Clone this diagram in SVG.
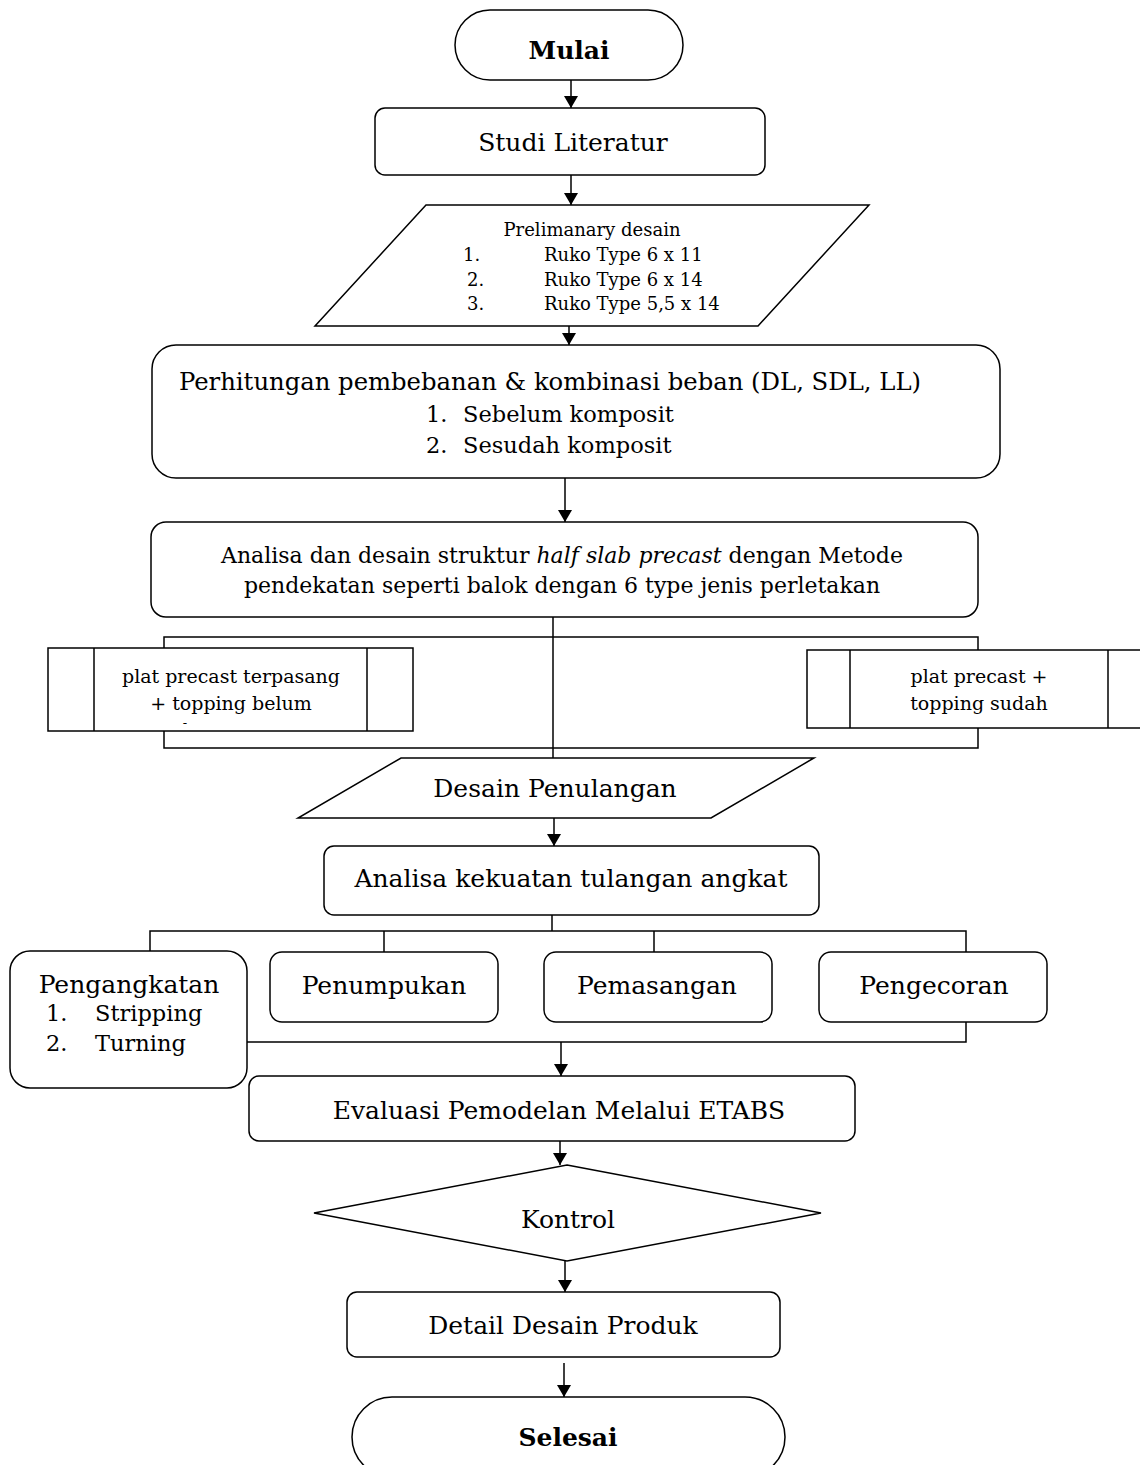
<svg xmlns="http://www.w3.org/2000/svg" width="1140" height="1465" viewBox="0 0 1140 1465">
<style>
.s{fill:#fff;stroke:#000;stroke-width:1.5}
.l{fill:none;stroke:#000;stroke-width:1.5}
.t{font-family:"DejaVu Serif","Liberation Serif",serif;font-size:25px;fill:#000;text-anchor:middle}
.b{font-weight:bold}
.sm{font-size:18px}
.md{font-size:19px}
.li{font-size:22.5px}
.an{font-size:22px}
.ph{font-size:24.3px}
.dash{font-size:13px}
.st{text-anchor:start}
</style>
<defs>
<marker id="ah" markerWidth="12" markerHeight="14" refX="12" refY="7" orient="auto" markerUnits="userSpaceOnUse">
<path d="M0,0 L12,7 L0,14 Z" fill="#000"/>
</marker>
</defs>
<rect width="1140" height="1465" fill="#fff"/>
<g id="connectors">
<line class="l" x1="571" y1="80" x2="571" y2="108" marker-end="url(#ah)"/>
<line class="l" x1="571" y1="175" x2="571" y2="205" marker-end="url(#ah)"/>
<line class="l" x1="569" y1="326" x2="569" y2="345" marker-end="url(#ah)"/>
<line class="l" x1="565" y1="478" x2="565" y2="522" marker-end="url(#ah)"/>
<line class="l" x1="553" y1="617" x2="553" y2="758"/>
<polyline class="l" points="164,648 164,637 978,637 978,650"/>
<polyline class="l" points="164,731 164,748 978,748 978,728"/>
<line class="l" x1="554" y1="818" x2="554" y2="846" marker-end="url(#ah)"/>
<line class="l" x1="552" y1="915" x2="552" y2="931"/>
<polyline class="l" points="150,951 150,931 966,931 966,952"/>
<line class="l" x1="384" y1="931" x2="384" y2="952"/>
<line class="l" x1="654" y1="931" x2="654" y2="952"/>
<polyline class="l" points="247,1042 966,1042 966,1022"/>
<line class="l" x1="561" y1="1042" x2="561" y2="1076" marker-end="url(#ah)"/>
<line class="l" x1="560" y1="1141" x2="560" y2="1165" marker-end="url(#ah)"/>
<line class="l" x1="565" y1="1261" x2="565" y2="1292" marker-end="url(#ah)"/>
<line class="l" x1="564" y1="1363" x2="564" y2="1397" marker-end="url(#ah)"/>
</g>
<g id="mulai">
<rect class="s" x="455" y="10" width="228" height="70" rx="35"/>
<text class="t b" x="569" y="59">Mulai</text>
</g>
<g id="studi">
<rect class="s" x="375" y="108" width="390" height="67" rx="10"/>
<text class="t" x="573" y="151">Studi Literatur</text>
</g>
<g id="prelim">
<polygon class="s" points="426,205 869,205 758,326 315,326"/>
<text class="t sm" x="592" y="236">Prelimanary desain</text>
<text class="t sm st" x="463" y="261">1.</text>
<text class="t sm st" x="544" y="261">Ruko Type 6 x 11</text>
<text class="t sm st" x="467" y="286">2.</text>
<text class="t sm st" x="544" y="286">Ruko Type 6 x 14</text>
<text class="t sm st" x="467" y="310">3.</text>
<text class="t sm st" x="544" y="310">Ruko Type 5,5 x 14</text>
</g>
<g id="perhitungan">
<rect class="s" x="152" y="345" width="848" height="133" rx="24"/>
<text class="t ph" x="550" y="390">Perhitungan pembebanan &amp; kombinasi beban (DL, SDL, LL)</text>
<text class="t li st" x="426" y="422">1.</text>
<text class="t li st" x="463" y="422">Sebelum komposit</text>
<text class="t li st" x="426" y="453">2.</text>
<text class="t li st" x="463" y="453">Sesudah komposit</text>
</g>
<g id="analisa">
<rect class="s" x="151" y="522" width="827" height="95" rx="15"/>
<text class="t an" x="562" y="563">Analisa dan desain struktur <tspan font-style="italic">half slab precast</tspan> dengan Metode</text>
<text class="t an" x="562" y="593">pendekatan seperti balok dengan 6 type jenis perletakan</text>
</g>
<g id="plat-belum">
<rect class="s" x="48" y="648" width="365" height="83"/>
<line class="l" x1="94" y1="648" x2="94" y2="731"/>
<line class="l" x1="367" y1="648" x2="367" y2="731"/>
<text class="t md" x="231" y="683">plat precast terpasang</text>
<text class="t md" x="231" y="710">+ topping belum</text>
<text class="t dash" x="185" y="727">-</text>
</g>
<g id="plat-sudah">
<rect class="s" x="807" y="650" width="345" height="78"/>
<line class="l" x1="850" y1="650" x2="850" y2="728"/>
<line class="l" x1="1108" y1="650" x2="1108" y2="728"/>
<text class="t md" x="979" y="683">plat precast +</text>
<text class="t md" x="979" y="710">topping sudah</text>
</g>
<g id="desain-penulangan">
<polygon class="s" points="401,758 814,758 711,818 298,818"/>
<text class="t" x="555" y="797">Desain Penulangan</text>
</g>
<g id="analisa-kekuatan">
<rect class="s" x="324" y="846" width="495" height="69" rx="10"/>
<text class="t" x="571" y="887">Analisa kekuatan tulangan angkat</text>
</g>
<g id="pengangkatan">
<rect class="s" x="10" y="951" width="237" height="137" rx="20"/>
<text class="t" x="129" y="993">Pengangkatan</text>
<text class="t li st" x="46" y="1021">1.</text>
<text class="t li st" x="95" y="1021">Stripping</text>
<text class="t li st" x="46" y="1051">2.</text>
<text class="t li st" x="95" y="1051">Turning</text>
</g>
<g id="penumpukan">
<rect class="s" x="270" y="952" width="228" height="70" rx="12"/>
<text class="t" x="384" y="994">Penumpukan</text>
</g>
<g id="pemasangan">
<rect class="s" x="544" y="952" width="228" height="70" rx="12"/>
<text class="t" x="657" y="994">Pemasangan</text>
</g>
<g id="pengecoran">
<rect class="s" x="819" y="952" width="228" height="70" rx="12"/>
<text class="t" x="934" y="994">Pengecoran</text>
</g>
<g id="evaluasi">
<rect class="s" x="249" y="1076" width="606" height="65" rx="10"/>
<text class="t" x="559" y="1119">Evaluasi Pemodelan Melalui ETABS</text>
</g>
<g id="kontrol">
<polygon class="s" points="567,1165 821,1213 567,1261 314,1213"/>
<text class="t" x="568" y="1228">Kontrol</text>
</g>
<g id="detail">
<rect class="s" x="347" y="1292" width="433" height="65" rx="10"/>
<text class="t" x="563" y="1334">Detail Desain Produk</text>
</g>
<g id="selesai">
<rect class="s" x="352" y="1397" width="433" height="80" rx="40"/>
<text class="t b" x="568" y="1446">Selesai</text>
</g>
</svg>
